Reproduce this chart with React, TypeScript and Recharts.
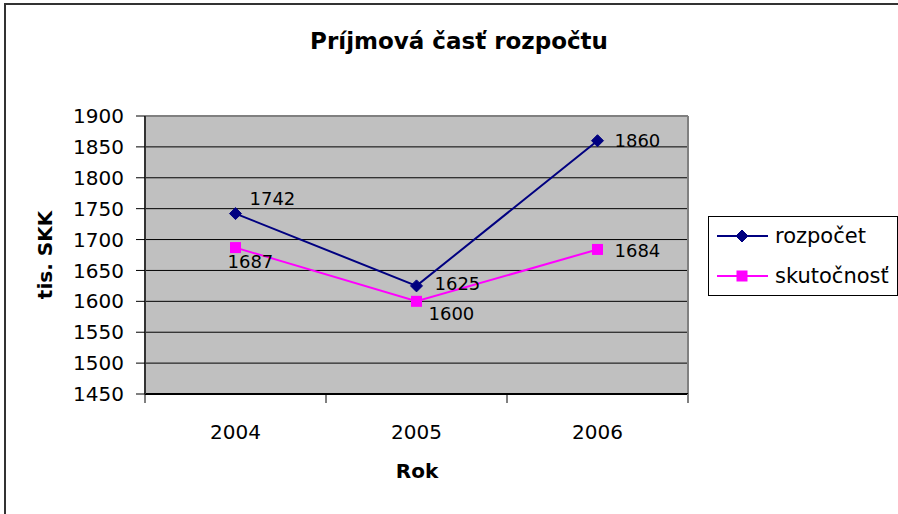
import React from 'react';
import { LineChart, Line, XAxis, YAxis, CartesianGrid, LabelList } from 'recharts';

// values
const years = ['2004', '2005', '2006'];
const rozpocet = [1742, 1625, 1860];
const skutocnost = [1687, 1600, 1684];
const yTicks = [1450, 1500, 1550, 1600, 1650, 1700, 1750, 1800, 1850, 1900];

const data = years.map((rok, i) => ({ rok, rozpocet: rozpocet[i], skutocnost: skutocnost[i] }));

const FONT = '"DejaVu Sans", Arial, sans-serif';
const NAVY = '#000080';
const MAGENTA = '#FF00FF';
const HALF_BAND = 90.5; // plot is 543px wide, 3 categories

// label nudges per point (dx from point to text start, dy to text centre)
const rozpocetNudge = [[14, -15], [18, -2], [17, 0]];
const skutocnostNudge = [[-8, 14], [12, 12], [17, 1]];

const Diamond = ({ cx, cy, r = 6 }: any) => (
    <path d={`M${cx},${cy - r}L${cx + r},${cy}L${cx},${cy + r}L${cx - r},${cy}Z`} fill={NAVY} stroke={NAVY} />
);

const Square = ({ cx, cy, s = 11 }: any) => (
    <rect x={cx - s / 2} y={cy - s / 2} width={s} height={s} fill={MAGENTA} />
);

const makeLabel = (nudge: number[][]) => (props: any) => {
    const { x, y, value, index } = props;
    const [dx, dy] = nudge[index] || [10, 0];
    return (
        <text x={x + dx} y={y + dy} fontSize={18} fontFamily={FONT} fill="#000" dominantBaseline="central">
            {value}
        </text>
    );
};

const XTick = (props: any) => {
    const { x, y, payload, index } = props;
    return (
        <g>
            <line x1={x - HALF_BAND} y1={y} x2={x - HALF_BAND} y2={y + 9} stroke="#000" />
            {index === years.length - 1 && (
                <line x1={x + HALF_BAND} y1={y} x2={x + HALF_BAND} y2={y + 9} stroke="#808080" strokeWidth={2} />
            )}
            <text x={x} y={y + 38} textAnchor="middle" dominantBaseline="central" fontSize={20} fontFamily={FONT} fill="#000">
                {payload.value}
            </text>
        </g>
    );
};

const App = () => {
    return (
        <div style={{ position: 'absolute', left: 0, top: 0, width: 898, height: 514, background: '#fff', overflow: 'hidden' }}>
            <div
                style={{
                    position: 'absolute',
                    left: 4,
                    top: 3,
                    width: 900,
                    height: 520,
                    borderLeft: '2px solid #333',
                    borderTop: '2px solid #333',
                }}
            />
            <div style={{ position: 'absolute', left: 0, top: 0 }}>
                <LineChart width={898} height={514} data={data} margin={{ top: 116, right: 210, bottom: 90, left: 35 }}>
                    {/* plot background + horizontal grid */}
                    <CartesianGrid vertical={false} stroke="#000" fill="#C0C0C0" fillOpacity={1} />
                    {/* grey frame on top and right */}
                    <CartesianGrid
                        stroke="#808080"
                        strokeWidth={2}
                        horizontalCoordinatesGenerator={({ offset }: any) => [offset.top]}
                        verticalCoordinatesGenerator={({ offset }: any) => [offset.left + offset.width]}
                    />

                    <XAxis
                        dataKey="rok"
                        height={30}
                        padding={{ left: HALF_BAND, right: HALF_BAND }}
                        tickLine={false}
                        tickSize={0}
                        tickMargin={0}
                        axisLine={{ stroke: '#000', strokeWidth: 2 }}
                        tick={<XTick />}
                        interval={0}
                    />
                    <YAxis
                        width={110}
                        domain={[1450, 1900]}
                        ticks={yTicks}
                        interval={0}
                        tickSize={9}
                        tickMargin={12}
                        axisLine={{ stroke: '#333', strokeWidth: 2 }}
                        tickLine={{ stroke: '#000' }}
                        tick={{ fontSize: 20, fill: '#000', fontFamily: FONT }}
                    />

                    <Line
                        dataKey="rozpocet"
                        stroke={NAVY}
                        strokeWidth={2}
                        dot={(p: any) => <Diamond key={`d${p.index}`} cx={p.cx} cy={p.cy} />}
                        activeDot={false}
                        isAnimationActive={false}
                    >
                        <LabelList dataKey="rozpocet" content={makeLabel(rozpocetNudge)} />
                    </Line>
                    <Line
                        dataKey="skutocnost"
                        stroke={MAGENTA}
                        strokeWidth={2}
                        dot={(p: any) => <Square key={`s${p.index}`} cx={p.cx} cy={p.cy} />}
                        activeDot={false}
                        isAnimationActive={false}
                    >
                        <LabelList dataKey="skutocnost" content={makeLabel(skutocnostNudge)} />
                    </Line>
                </LineChart>
            </div>

            {/* titles and legend */}
            <svg width={898} height={514} style={{ position: 'absolute', left: 0, top: 0, pointerEvents: 'none' }}>
                <text x={459} y={49} textAnchor="middle" fontSize={23} fontWeight="bold" fontFamily={FONT} fill="#000">
                    Príjmová časť rozpočtu
                </text>
                <text x={417} y={471} textAnchor="middle" dominantBaseline="central" fontSize={20} fontWeight="bold" fontFamily={FONT} fill="#000">
                    Rok
                </text>
                <text
                    transform="translate(45,255) rotate(-90)"
                    textAnchor="middle"
                    dominantBaseline="central"
                    fontSize={20}
                    fontWeight="bold"
                    fontFamily={FONT}
                    fill="#000"
                >
                    tis. SKK
                </text>

                <rect x={708.5} y={216.5} width={189} height={79} fill="#fff" stroke="#000" />
                <line x1={717} y1={236} x2={768} y2={236} stroke={NAVY} strokeWidth={2} />
                <Diamond cx={742} cy={236} />
                <text x={775} y={236} dominantBaseline="central" fontSize={21} fontFamily={FONT} fill="#000">
                    rozpočet
                </text>
                <line x1={717} y1={276} x2={768} y2={276} stroke={MAGENTA} strokeWidth={2} />
                <Square cx={742} cy={276} />
                <text x={775} y={276} dominantBaseline="central" fontSize={21} fontFamily={FONT} fill="#000">
                    skutočnosť
                </text>
            </svg>
        </div>
    );
};

export default App;
